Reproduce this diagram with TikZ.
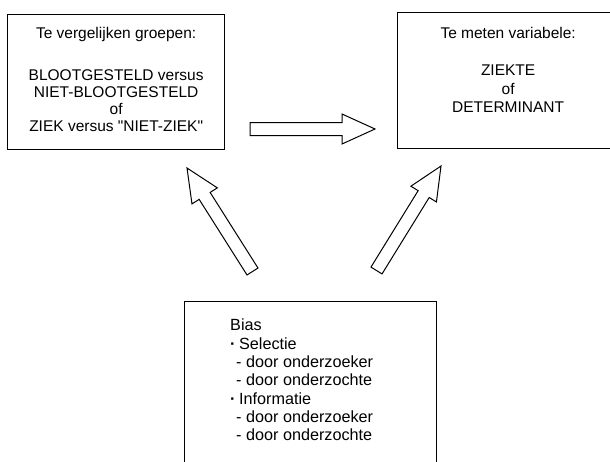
\documentclass[tikz,border=0pt]{standalone}
\usepackage{fontspec}
\setmainfont{Liberation Sans}
\usetikzlibrary{positioning, calc}

\tikzset{
	kader/.style={draw, line width=1.3pt, inner sep=0pt, anchor=north west},
	tekst/.style={align=center, inner sep=0pt, font=\fontsize{15.5}{18.4}\selectfont},
	blokpijl/.style={draw, line width=1pt, line join=miter, to path={
		let \p1=(\tikztostart), \p2=(\tikztotarget),
			\n1={atan2(\y2-\y1,\x2-\x1)}, \n2={veclen(\x2-\x1,\y2-\y1)} in
		{[shift={(\p1)}, rotate=\n1]
			(0pt,-6.5pt) -- (\n2-33pt,-6.5pt) -- (\n2-33pt,-15pt) -- (\n2,0pt)
			-- (\n2-33pt,15pt) -- (\n2-33pt,6.5pt) -- (0pt,6.5pt) -- cycle}}}
}
\newcommand{\stip}{\textbf{·}\hspace*{3.5pt}}

\begin{document}
\begin{tikzpicture}[x=1pt, y=-1pt]
			\useasboundingbox (0,0) rectangle (610,461);
			% kaders
			\node[kader, minimum width=217pt, minimum height=135pt] (groepen) at (7,14) {};
			\node[kader, minimum width=221pt, minimum height=136pt] (meten) at (397,12) {};
			\node[kader, minimum width=252pt, minimum height=170pt] (bias) at (184,301) {};
			% teksten
			\node[tekst, font=\fontsize{15.5}{17}\selectfont] (groepentekst) [below=13pt of groepen.north]
				{Te vergelijken groepen:\\[25.5pt] BLOOTGESTELD versus\\ NIET-BLOOTGESTELD\\ of\\ ZIEK versus \textquotedbl NIET-ZIEK\textquotedbl};
			\node[tekst] (metentekst) [below=15pt of meten.north]
				{Te meten variabele:\\[19pt] ZIEKTE\\ of\\ DETERMINANT};
			\node[tekst, align=left, anchor=north west, font=\fontsize{16.2}{18.3}\selectfont] (biastekst)
				[below right=18pt and 46pt of bias.north west]
				{Bias\\ \stip{}Selectie\\ \hspace*{6pt}- door onderzoeker\\ \hspace*{6pt}- door onderzochte\\
				 \stip{}Informatie\\ \hspace*{6pt}- door onderzoeker\\ \hspace*{6pt}- door onderzochte};
			% pijlen
			\coordinate (h0) at (250,129);
			\coordinate (h1) at (375,129);
			\coordinate (l0) at (252.5,271.5);
			\coordinate (l1) at (187,168);
			\coordinate (r0) at (376.5,270.5);
			\coordinate (r1) at (441,166);
			\path[blokpijl]
				(h0) to (h1)
				(l0) to (l1)
				(r0) to (r1);
		\end{tikzpicture}
\end{document}
